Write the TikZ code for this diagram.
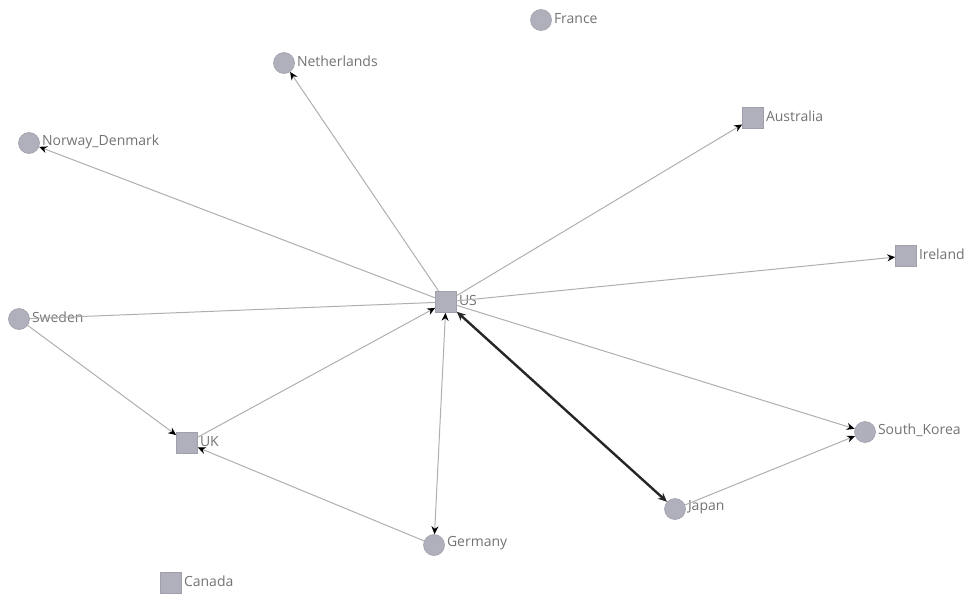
\documentclass[tikz,border=0pt]{standalone}
\usepackage{fontspec}
\setmainfont{Open Sans}
\usetikzlibrary{arrows.meta}
\definecolor{nodefill}{RGB}{176,176,188}
\definecolor{nodeline}{RGB}{160,160,172}
\definecolor{edgegray}{RGB}{175,175,175}
\definecolor{labelgray}{RGB}{115,115,115}
\begin{document}
\begin{tikzpicture}[x=1pt,y=-1pt,
  cnode/.style={circle,fill=nodefill,draw=nodeline,line width=0.6pt,minimum size=21pt,inner sep=0pt},
  snode/.style={rectangle,fill=nodefill,draw=nodeline,line width=0.6pt,minimum size=21pt,inner sep=0pt},
  lab/.style={text=labelgray,font=\fontsize{14}{16}\selectfont,inner sep=2pt,yshift=1.5pt},
  edge/.style={draw=edgegray,line width=1pt},
  tip/.style={-{Stealth[length=8pt,width=7pt,color=black]}},
  bitip/.style={{Stealth[length=8pt,width=7pt,color=black]}-{Stealth[length=8pt,width=7pt,color=black]}},
  thickedge/.style={draw=black!85,line width=2.4pt}
]
\useasboundingbox (0,0) rectangle (976,597);
\node[cnode,label={[lab]right:France}] (fr) at (541,20) {};
\node[cnode,label={[lab]right:Netherlands}] (nl) at (284,63) {};
\node[cnode,label={[lab]right:Norway\_Denmark}] (nd) at (29,143) {};
\node[snode,label={[lab]right:Australia}] (au) at (753,118) {};
\node[snode,label={[lab]right:Ireland}] (ie) at (906,256) {};
\node[snode,label={[lab]right:US}] (us) at (446,302) {};
\node[cnode,label={[lab]right:Sweden}] (se) at (19,319) {};
\node[snode,label={[lab]right:UK}] (uk) at (187,443) {};
\node[cnode,label={[lab]right:South\_Korea}] (sk) at (865,432) {};
\node[cnode,label={[lab]right:Japan}] (jp) at (675,509) {};
\node[cnode,label={[lab]right:Germany}] (de) at (434,545) {};
\node[snode,label={[lab]right:Canada}] (ca) at (171,583) {};

\draw[edge,tip] (us) -- (nl);
\draw[edge,tip] (us) -- (nd);
\draw[edge,tip] (us) -- (au);
\draw[edge,tip] (us) -- (ie);
\draw[edge] (se) -- (us);
\draw[edge,tip] (se) -- (uk);
\draw[edge,tip] (uk) -- (us);
\draw[edge,tip] (de) -- (uk);
\draw[edge,bitip] (us) -- (de);
\draw[edge,tip] (us) -- (sk);
\draw[edge,tip] (jp) -- (sk);
\draw[thickedge,{Stealth[length=9pt,width=8pt]}-{Stealth[length=9pt,width=8pt]}] (us) -- (jp);
\end{tikzpicture}
\end{document}
